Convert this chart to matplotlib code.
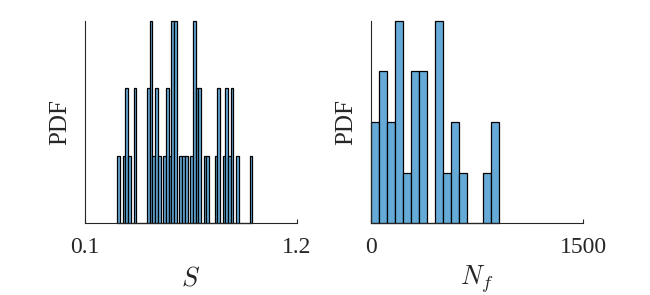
import numpy as np
import matplotlib
matplotlib.use('Agg')
import matplotlib.pyplot as plt

# ---- data ----
s_counts = [1, 0, 1, 2, 1, 0, 2, 0, 0, 0, 0, 2, 3, 1, 2, 1, 0, 1, 2, 1,
            3, 3, 0, 1, 1, 1, 0, 1, 3, 2, 2, 0, 1, 1, 0, 0, 1, 2, 0, 1,
            2, 1, 2, 0, 1, 0, 0, 0, 0, 1]
s_bin_start = 0.268
s_bin_width = 0.014
s_ticks = [0.1, 1.2]

nf_counts = [2, 3, 2, 4, 1, 3, 3, 0, 4, 1, 2, 1, 0, 0, 1, 2]
nf_bin_start = 0.0
nf_bin_width = 56.6
nf_ticks = [0, 1500]

x_labels = ['$S$', '$N_f$']
y_label = 'PDF'

# ---- style ----
plt.rcParams['font.family'] = ['Liberation Serif', 'DejaVu Serif']
plt.rcParams['mathtext.fontset'] = 'cm'
face = (0.4, 0.667, 0.843)
axcol = (0.15, 0.15, 0.15)

W, H = 650, 295
fig = plt.figure(figsize=(W / 100, H / 100), dpi=100)

panels = [
    (85, s_counts, s_bin_start, s_bin_width, s_ticks, x_labels[0]),
    (371, nf_counts, nf_bin_start, nf_bin_width, nf_ticks, x_labels[1]),
]
ax_top, ax_bot, ax_w = 21, 223, 212

for left, counts, start, width, ticks, xl in panels:
    ax = fig.add_axes([left / W, 1 - ax_bot / H, ax_w / W, (ax_bot - ax_top) / H])
    counts = np.asarray(counts, dtype=float)
    edges = start + width * np.arange(len(counts))
    pdf = counts / (counts.sum() * width)
    ax.bar(edges, pdf, width=width, align='edge', color=face,
           edgecolor='black', linewidth=0.9, clip_on=False, zorder=2)
    ax.set_xlim(ticks[0], ticks[-1])
    ax.set_ylim(0, pdf.max())
    ax.set_xticks(ticks)
    ax.set_xticklabels([f'{t:g}' for t in ticks])
    ax.set_yticks([])
    for sp in ['top', 'right']:
        ax.spines[sp].set_visible(False)
    for sp in ['left', 'bottom']:
        ax.spines[sp].set_color(axcol)
        ax.spines[sp].set_linewidth(0.8)
        ax.spines[sp].set_zorder(3)
    ax.tick_params(axis='x', direction='in', length=3, width=0.8,
                   color=axcol, labelcolor=axcol, labelsize=17, pad=10)
    cx = left + ax_w / 2
    fig.text(cx / W, 1 - 285 / H, xl, ha='center', va='baseline',
             fontsize=19, color=axcol)
    fig.text((left - 25) / W, 1 - 122 / H, y_label, rotation=90,
             ha='center', va='center', fontsize=18, color=axcol)

fig.savefig('out.png', dpi=100)
